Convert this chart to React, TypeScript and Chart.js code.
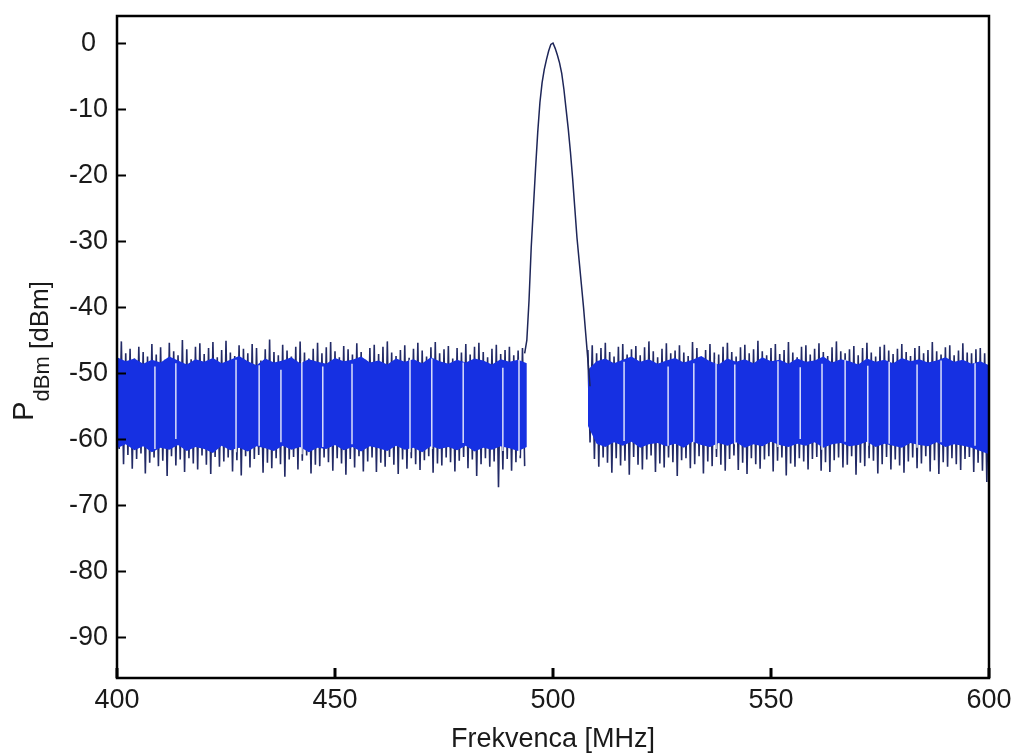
import React, { useEffect, useRef } from "react";
import { Chart, registerables } from "chart.js";

Chart.register(...registerables);

// ---------- data ----------
const xTickValues = [400, 450, 500, 550, 600];
const yTickValues = [0, -10, -20, -30, -40, -50, -60, -70, -80, -90];
const xTitle = "Frekvenca [MHz]";

// Noise, left part: one upper and one lower excursion per MHz, 400..493 MHz
const leftStart = 400;
const leftHi = [
  -46.5, -45.2, -47.0, -46.3, -47.8, -46.0, -46.8, -47.5, -45.6, -47.2,
  -46.1, -48.0, -45.4, -46.7, -47.3, -45.0, -46.4, -47.9, -46.0, -45.5,
  -47.1, -46.2, -45.3, -47.6, -46.5, -45.1, -46.9, -47.4, -45.8, -46.3,
  -47.0, -45.6, -46.2, -48.1, -46.4, -44.9, -46.8, -47.3, -45.7, -46.6,
  -47.5, -46.0, -45.2, -46.9, -47.8, -46.3, -45.4, -47.0, -46.1, -45.3,
  -46.7, -47.6, -45.9, -46.4, -47.2, -45.5, -46.8, -48.0, -46.2, -45.7,
  -47.1, -46.0, -45.2, -46.9, -47.4, -46.5, -45.8, -47.7, -46.3, -45.4,
  -46.6, -47.5, -46.1, -45.3, -47.0, -46.4, -45.9, -47.8, -46.2, -46.9,
  -45.6, -47.2, -46.0, -45.4, -46.8, -47.6, -46.3, -45.7, -47.1, -46.5,
  -46.0, -47.3, -46.6, -46.2,
];
const leftLo = [
  -61.5, -63.8, -62.4, -64.5, -63.0, -62.2, -65.2, -63.6, -62.8, -64.1,
  -63.3, -65.6, -62.6, -64.0, -63.1, -65.0, -62.9, -63.7, -64.6, -62.5,
  -63.9, -65.3, -62.7, -64.2, -63.4, -62.8, -64.9, -63.2, -65.5, -62.6,
  -64.3, -63.0, -62.4, -65.1, -63.6, -64.4, -62.9, -63.8, -65.7, -63.1,
  -62.7, -64.6, -63.3, -62.5, -65.2, -63.9, -64.1, -62.8, -63.5, -64.8,
  -62.9, -63.7, -65.4, -63.0, -64.3, -62.6, -64.9, -63.4, -62.8, -65.0,
  -63.6, -64.2, -62.7, -63.9, -65.3, -63.1, -64.5, -62.9, -63.8, -64.7,
  -63.2, -62.6, -65.1, -63.7, -64.0, -62.8, -63.5, -64.9, -63.3, -62.7,
  -64.4, -63.1, -65.6, -63.8, -62.9, -64.2, -63.4, -67.3, -64.6, -63.0,
  -64.8, -63.5, -62.9, -64.1,
];

// Noise, right part: 508..600 MHz
const rightStart = 508;
const rightHi = [
  -46.5, -45.8,
  -47.0, -46.2, -45.4, -46.8, -47.5, -46.0, -45.6, -47.2, -46.4, -45.9,
  -47.3, -46.1, -45.2, -46.7, -47.6, -46.3, -45.5, -47.0, -46.6, -45.8,
  -46.9, -47.4, -45.3, -46.2, -47.7, -46.5, -45.6, -46.9, -47.2, -46.0,
  -45.4, -46.8, -47.5, -46.1, -45.7, -47.0, -46.4, -45.1, -46.7, -47.3,
  -46.2, -45.6, -47.1, -46.5, -45.3, -46.9, -47.6, -46.0, -45.8, -47.2,
  -46.3, -45.5, -46.8, -47.4, -46.1, -45.2, -46.7, -47.0, -46.4, -45.9,
  -47.3, -46.2, -45.4, -46.9, -47.5, -46.0, -45.7, -46.6, -47.1, -46.3,
  -45.6, -46.8, -47.4, -46.2, -45.9, -47.0, -46.5, -45.3, -46.7, -47.2,
  -46.1, -45.8, -47.3, -46.6, -45.5, -46.9, -47.0, -46.4, -46.2, -47.0,
  -48.0,
];
const rightLo = [
  -60.5, -63.0,
  -64.2, -62.8, -63.6, -65.1, -62.9, -64.0, -63.3, -65.4, -62.7, -63.9,
  -64.6, -63.1, -62.5, -65.0, -63.7, -64.3, -62.8, -63.5, -65.6, -63.2,
  -62.9, -64.4, -63.8, -62.6, -65.2, -63.4, -64.1, -62.7, -63.9, -64.8,
  -63.0, -62.5, -64.7, -63.6, -65.3, -62.9, -63.8, -64.5, -63.1, -62.6,
  -64.9, -63.3, -62.8, -65.5, -63.7, -64.2, -62.9, -63.4, -64.6, -63.0,
  -62.7, -64.8, -63.5, -65.0, -63.2, -62.8, -64.3, -63.9, -62.6, -65.4,
  -63.6, -64.1, -62.9, -63.3, -65.2, -63.8, -62.7, -64.6, -63.1, -64.0,
  -65.1, -63.4, -62.8, -64.4, -63.7, -62.6, -64.9, -63.2, -65.3, -63.5,
  -64.2, -62.9, -63.8, -64.7, -63.0, -62.7, -65.0, -63.6, -64.8, -66.5,
  -68.3,
];

// Dense core of the noise band (solid blue), every 2 MHz
const coreStep = 2;
const coreTopL = [
  -47.6, -48.2, -47.8, -48.6, -48.0, -48.4, -47.5, -48.1, -48.7, -47.9,
  -48.3, -47.7, -48.5, -48.0, -47.4, -48.2, -48.8, -47.8, -48.4, -48.1,
  -47.6, -48.5, -47.9, -48.3, -48.6, -47.7, -48.2, -48.0, -47.5, -48.4,
  -48.1, -48.7, -47.8, -48.3, -47.9, -48.5, -47.6, -48.2, -48.6, -48.0,
  -48.4, -47.8, -48.1, -48.7, -47.9, -48.3, -48.0, -48.5,
];
const coreBotL = [
  -61.4, -60.8, -61.7, -61.1, -62.0, -61.3, -61.6, -60.9, -61.8, -61.2,
  -61.5, -62.1, -61.0, -61.7, -61.3, -61.9, -61.1, -61.4, -61.8, -61.0,
  -61.6, -61.2, -62.0, -61.3, -61.5, -60.9, -61.7, -61.2, -61.9, -61.1,
  -61.4, -61.8, -61.0, -61.6, -61.3, -62.0, -61.1, -61.5, -61.2, -61.7,
  -61.0, -61.9, -61.3, -61.6, -61.1, -61.4, -61.8, -61.2,
];
const coreTopR = [
  -49.5, -48.2, -47.8, -48.5, -48.0, -47.5, -48.3, -47.9, -48.6, -48.1,
  -47.7, -48.4, -48.0, -47.4, -48.2, -48.7, -47.8, -48.3, -47.9, -48.5,
  -47.6, -48.2, -48.0, -48.6, -47.8, -48.3, -48.1, -47.5, -48.4, -47.9,
  -48.2, -48.7, -47.8, -48.3, -48.0, -48.5, -47.7, -48.2, -47.9, -48.4,
  -48.1, -47.6, -48.3, -48.0, -48.6, -48.2, -48.8,
];
const coreBotR = [
  -58.0, -60.7, -61.2, -60.5, -61.0, -60.4, -61.3, -60.8, -60.6, -61.1,
  -60.7, -61.3, -60.4, -60.9, -61.2, -60.6, -61.0, -60.5, -61.3, -60.8,
  -61.1, -60.4, -60.9, -61.2, -60.7, -61.0, -60.5, -61.3, -60.8, -60.6,
  -61.1, -60.9, -60.4, -61.2, -60.7, -61.0, -61.3, -60.6, -60.9, -61.1,
  -60.5, -61.2, -60.8, -61.0, -61.3, -61.8, -62.3,
];

// Carrier peak around 500 MHz
const peakFreq = [
  493.5, 494, 494.5, 495, 495.5, 496, 496.5, 497, 497.5, 498, 498.5, 499,
  499.5, 500, 500.5, 501, 501.5, 502, 502.5, 503, 503.5, 504, 504.5, 505,
  505.5, 506, 506.5, 507, 507.5, 508, 508.5,
];
const peakDb = [
  -47, -45, -39, -31, -25, -19, -13.5, -9, -6, -4, -2.5, -1.2,
  -0.2, 0, -0.8, -1.8, -3, -4.6, -7, -10, -13, -16.5, -20.5, -25,
  -29.5, -33, -36.5, -40, -44, -48, -52,
];

// Thin drop-outs (white vertical lines) inside the noise band
const gapFreq = [
  408.7, 413.5, 427.3, 432.6, 437.6, 442.4, 447.2, 453.9, 467.2, 472.2,
  479.4, 488.5, 492.2, 516.3, 526.4, 532.3, 537.4, 541.7, 551.6, 556.7,
  561.7, 567.0, 572.2, 577.1, 583.5, 589.0, 596.8,
];
const gapTop = [
  -49.0, -48.5, -48.0, -48.8, -49.5, -48.2, -49.0, -48.6, -48.0, -47.8,
  -48.4, -49.2, -48.0, -48.3, -49.0, -48.5, -47.9, -48.7, -48.2, -49.1,
  -48.6, -48.0, -48.9, -48.3, -48.7, -48.1, -48.5,
];
const gapBot = [
  -61.5, -60.0, -62.0, -61.0, -60.5, -62.3, -61.2, -60.8, -62.0, -61.5,
  -60.6, -61.8, -62.5, -60.3, -61.0, -60.5, -61.5, -60.8, -61.2, -60.0,
  -61.6, -60.4, -61.0, -60.7, -61.3, -60.5, -61.0,
];

// ---------- styling ----------
const FONT = "'Liberation Sans', Arial, sans-serif";
const TEXT = "#1a1a1a";

const framePlugin = {
  id: "frameAndTitles",
  afterDraw(chart: any) {
    const { ctx, chartArea: a, scales } = chart;
    ctx.save();
    ctx.strokeStyle = "#000";
    ctx.lineWidth = 2.5;
    ctx.strokeRect(a.left, a.top, a.right - a.left, a.bottom - a.top);
    ctx.lineWidth = 2;
    yTickValues.forEach((v) => {
      const y = Math.round(scales.y.getPixelForValue(v)) + 0.5;
      ctx.beginPath();
      ctx.moveTo(a.left, y);
      ctx.lineTo(a.left + 9, y);
      ctx.stroke();
    });
    ctx.lineWidth = 3;
    xTickValues.forEach((v) => {
      const x = scales.x.getPixelForValue(v);
      ctx.beginPath();
      ctx.moveTo(x, a.bottom);
      ctx.lineTo(x, a.bottom - 10);
      ctx.stroke();
    });
    // x title
    ctx.fillStyle = TEXT;
    ctx.font = `27px ${FONT}`;
    ctx.textAlign = "center";
    ctx.textBaseline = "middle";
    ctx.fillText(xTitle, (a.left + a.right) / 2, 740);
    // y title: P_dBm [dBm]
    ctx.textAlign = "left";
    ctx.textBaseline = "alphabetic";
    const fMain = `29px ${FONT}`;
    const fSub = `22px ${FONT}`;
    const fUnit = `26px ${FONT}`;
    ctx.font = fMain;
    const wP = ctx.measureText("P").width;
    ctx.font = fSub;
    const wS = ctx.measureText("dBm").width;
    ctx.font = fUnit;
    const wU = ctx.measureText(" [dBm]").width;
    const total = wP + wS + wU;
    ctx.translate(33, 351 + total / 2);
    ctx.rotate(-Math.PI / 2);
    ctx.font = fMain;
    ctx.fillText("P", 0, 0);
    ctx.font = fSub;
    ctx.fillText("dBm", wP, 16);
    ctx.font = fUnit;
    ctx.fillText(" [dBm]", wP + wS, 15);
    ctx.restore();
  },
};

export default function App() {
  const ref = useRef<HTMLCanvasElement | null>(null);

  useEffect(() => {
    if (!ref.current) return;

    const spikes = (start: number, hi: number[], lo: number[]) =>
      hi.flatMap((h, i) => [
        { x: start + i, y: h },
        { x: start + i + 0.5, y: lo[i] },
      ]);
    const core = (start: number, vals: number[]) =>
      vals.map((v, i) => ({ x: start + i * coreStep, y: v }));
    const gaps = gapFreq.flatMap((f, i) => [
      { x: f, y: gapTop[i] },
      { x: f, y: gapBot[i] },
      { x: f, y: null as any },
    ]);
    const peak = peakFreq.map((f, i) => ({ x: f, y: peakDb[i] }));

    const bandColor = "#1630e2";
    const spikeColor = "#222a66";

    const common = { pointRadius: 0, tension: 0, spanGaps: false };

    const chart = new Chart(ref.current, {
      type: "line",
      data: {
        datasets: [
          { ...common, data: peak, borderColor: "#1e2658", borderWidth: 1.5, fill: false },
          { ...common, data: gaps, borderColor: "rgba(255,255,255,0.9)", borderWidth: 1.4, fill: false },
          { ...common, data: core(leftStart, coreTopL), borderColor: bandColor, borderWidth: 0, backgroundColor: bandColor, fill: "+1" },
          { ...common, data: core(leftStart, coreBotL), borderColor: bandColor, borderWidth: 0, fill: false },
          { ...common, data: core(rightStart, coreTopR), borderColor: bandColor, borderWidth: 0, backgroundColor: bandColor, fill: "+1" },
          { ...common, data: core(rightStart, coreBotR), borderColor: bandColor, borderWidth: 0, fill: false },
          { ...common, data: spikes(leftStart, leftHi, leftLo), borderColor: spikeColor, borderWidth: 1.6, fill: false },
          { ...common, data: spikes(rightStart, rightHi, rightLo), borderColor: spikeColor, borderWidth: 1.6, fill: false },
        ],
      },
      options: {
        animation: false,
        responsive: false,
        layout: { padding: { top: 16, right: 22, left: 0, bottom: 0 } },
        plugins: { legend: { display: false }, tooltip: { enabled: false } },
        scales: {
          x: {
            type: "linear",
            min: 400,
            max: 600,
            grid: { display: false, drawTicks: false },
            border: { display: false },
            afterBuildTicks: (s: any) => {
              s.ticks = xTickValues.map((v) => ({ value: v }));
            },
            afterFit: (s: any) => {
              s.height = 78;
              s.paddingLeft = 0;
              s.paddingRight = 0;
            },
            ticks: {
              color: TEXT,
              font: { family: FONT, size: 27 },
              padding: 6,
              maxRotation: 0,
              autoSkip: false,
            },
          },
          y: {
            type: "linear",
            min: -96.2,
            max: 4.1,
            grid: { display: false, drawTicks: false },
            border: { display: false },
            afterBuildTicks: (s: any) => {
              s.ticks = yTickValues.map((v) => ({ value: v }));
            },
            afterFit: (s: any) => {
              s.width = 117;
              s.paddingTop = 0;
              s.paddingBottom = 0;
            },
            ticks: {
              color: TEXT,
              font: { family: FONT, size: 27 },
              padding: 9,
              crossAlign: "center",
              autoSkip: false,
            },
          },
        },
      },
      plugins: [framePlugin],
    });
    return () => chart.destroy();
  }, []);

  return (
    <div style={{ position: "fixed", left: 0, top: 0, width: 1011, height: 756, background: "#fff" }}>
      <canvas ref={ref} width={1011} height={756} style={{ display: "block" }} />
    </div>
  );
}
